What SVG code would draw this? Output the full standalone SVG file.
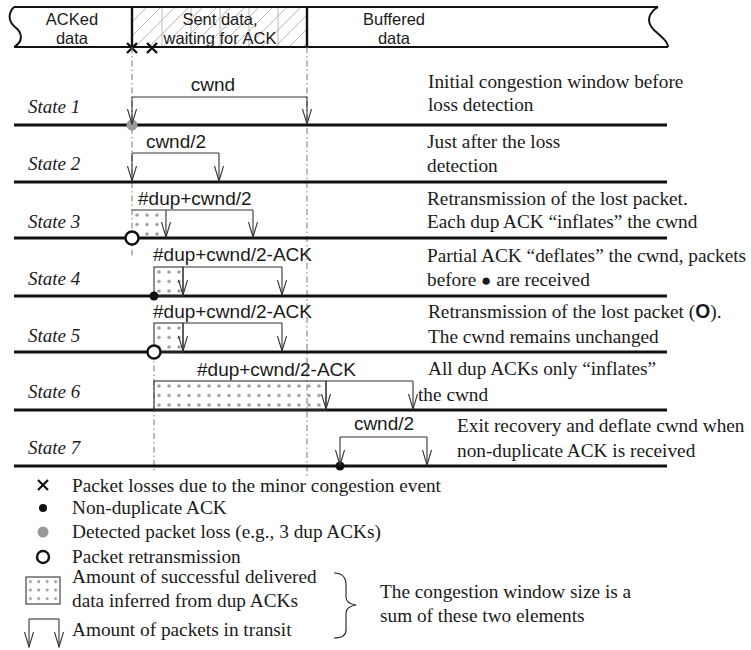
<svg xmlns="http://www.w3.org/2000/svg" width="751" height="650" viewBox="0 0 751 650">
<style>
.sans{font-family:"Liberation Sans",Arial,sans-serif;font-size:19px;fill:#1a1a1a}
.bn{font-family:"Liberation Sans",Arial,sans-serif;font-size:16.5px;fill:#1a1a1a}
.serif{font-family:"Liberation Serif","Times New Roman",serif;font-size:19.3px;fill:#1a1a1a}
.state{font-family:"Liberation Serif","Times New Roman",serif;font-size:19px;font-style:italic;fill:#1a1a1a}
.axis{stroke:#111;stroke-width:2.8;fill:none}
.br{stroke:#333;stroke-width:1.1;fill:none}
.arr{stroke:#333;stroke-width:1.1;fill:none;marker-end:url(#v)}
.dd{stroke:#777;stroke-width:1;stroke-dasharray:6 3 1.5 3;fill:none}
.box{stroke:#333;stroke-width:1.1;fill:url(#dots)}
.hatch{stroke:#aaa;stroke-width:0.8}
</style>
<defs>
<marker id="v" markerUnits="userSpaceOnUse" viewBox="0 -6 16 12" refX="15" refY="0" markerWidth="16" markerHeight="12" orient="auto">
<path d="M0,-4.5 L15,0 L0,4.5" fill="none" stroke="#333" stroke-width="1.1"/>
</marker>
<pattern id="dots" patternUnits="userSpaceOnUse" width="10" height="9.5">
<circle cx="5" cy="5" r="1.7" fill="#9a9a9a"/>
</pattern>
<pattern id="dotsL" patternUnits="userSpaceOnUse" width="8.4" height="8.5">
<circle cx="4.4" cy="4.6" r="1.5" fill="#9a9a9a"/>
</pattern>
<pattern id="hatchP" patternUnits="userSpaceOnUse" width="14" height="14">
<path d="M-1,15 L15,-1" stroke="#aaa" stroke-width="0.8"/>
</pattern>
</defs>

<g id="banner">
<rect x="132" y="7" width="175" height="40" fill="url(#hatchP)"/>
<g class="hatch">
<line x1="162" y1="7" x2="162" y2="47"/>
<line x1="191" y1="7" x2="191" y2="47"/>
<line x1="220" y1="7" x2="220" y2="47"/>
<line x1="249" y1="7" x2="249" y2="47"/>
<line x1="278" y1="7" x2="278" y2="47"/>
</g>
<path d="M14,7 L658,7 M14,47 L668,47" stroke="#111" stroke-width="2.2" fill="none"/>
<path d="M14,7 C8,13 8,21 15,27 C23,33 23,42 14,47" stroke="#111" stroke-width="2" fill="none"/>
<path d="M658,7 C648,13 646,22 654,30 C662,37 668,42 668,47" stroke="#111" stroke-width="2" fill="none"/>
<path d="M132,7 L132,47 M307,7 L307,47" stroke="#111" stroke-width="2.4"/>
<text class="bn" x="72" y="25" text-anchor="middle">ACKed</text>
<text class="bn" x="72" y="44" text-anchor="middle">data</text>
<text class="bn" x="220" y="25" text-anchor="middle">Sent data,</text>
<text class="bn" x="220" y="44" text-anchor="middle">waiting for ACK</text>
<text class="bn" x="394" y="25" text-anchor="middle">Buffered</text>
<text class="bn" x="394" y="44" text-anchor="middle">data</text>
<path d="M127,43 L137,53 M127,53 L137,43 M147,43 L157,53 M147,53 L157,43" stroke="#111" stroke-width="2.4"/>
</g>

<g id="guides">
<line class="dd" x1="132" y1="47" x2="132" y2="258"/>
<line class="dd" x1="307" y1="47" x2="307" y2="476"/>
<line class="dd" x1="154" y1="352" x2="154" y2="472"/>
</g>

<g id="state1">
<line class="axis" x1="14" y1="125" x2="667" y2="125"/>
<text class="state" x="28" y="113">State 1</text>
<text class="sans" x="213" y="91" text-anchor="middle">cwnd</text>
<text class="serif" x="428" y="88">Initial congestion window before</text>
<text class="serif" x="428" y="111">loss detection</text>
<circle cx="132" cy="125" r="5.5" fill="#999"/>
</g>

<g id="state2">
<line class="axis" x1="14" y1="182" x2="667" y2="182"/>
<text class="state" x="28" y="170">State 2</text>
<text class="sans" x="176" y="148" text-anchor="middle">cwnd/2</text>
<text class="serif" x="427" y="148">Just after the loss</text>
<text class="serif" x="427" y="172">detection</text>
</g>

<g id="state3">
<line class="axis" x1="14" y1="238" x2="667" y2="238"/>
<text class="state" x="28" y="228">State 3</text>
<g transform="translate(132,210)"><rect x="0" y="0" width="34" height="28" fill="url(#dots)"/></g>
<text class="sans" x="138" y="205">#dup+cwnd/2</text>
<text class="serif" x="427" y="205">Retransmission of the lost packet.</text>
<text class="serif" x="427" y="228">Each dup ACK “inflates” the cwnd</text>
<circle cx="132" cy="238" r="6.5" fill="#fff" stroke="#111" stroke-width="2.4"/>
</g>

<g id="state4">
<line class="axis" x1="14" y1="296" x2="667" y2="296"/>
<text class="state" x="28" y="285">State 4</text>
<g transform="translate(154,267)"><rect class="box" x="0" y="0" width="29" height="29"/></g>
<text class="sans" x="153" y="261">#dup+cwnd/2-ACK</text>
<text class="serif" x="427" y="262">Partial ACK “deflates” the cwnd, packets</text>
<text class="serif" x="427" y="286">before <tspan font-size="17">●</tspan> are received</text>
<circle cx="154" cy="296" r="4.5" fill="#111"/>
</g>

<g id="state5">
<line class="axis" x1="14" y1="352" x2="667" y2="352"/>
<text class="state" x="28" y="342">State 5</text>
<g transform="translate(154,323)"><rect class="box" x="0" y="0" width="29" height="29"/></g>
<text class="sans" x="153" y="318">#dup+cwnd/2-ACK</text>
<text class="serif" x="428" y="318">Retransmission of the lost packet (<tspan font-family="Liberation Sans,Arial,sans-serif" font-weight="bold">O</tspan>).</text>
<text class="serif" x="428" y="343">The cwnd remains unchanged</text>
<circle cx="154" cy="352" r="6.5" fill="#fff" stroke="#111" stroke-width="2.4"/>
</g>

<g id="state6">
<line class="axis" x1="14" y1="410" x2="667" y2="410"/>
<text class="state" x="28" y="398">State 6</text>
<g transform="translate(154,381)"><rect class="box" x="0" y="0" width="172" height="29"/></g>
<text class="sans" x="197" y="376">#dup+cwnd/2-ACK</text>
<text class="serif" x="428" y="375">All dup ACKs only “inflates”</text>
<text class="serif" x="418" y="401">the cwnd</text>
</g>

<g id="state7">
<line class="axis" x1="14" y1="466" x2="667" y2="466"/>
<text class="state" x="28" y="454">State 7</text>
<text class="sans" x="384" y="430" text-anchor="middle">cwnd/2</text>
<text class="serif" x="457" y="432">Exit recovery and deflate cwnd when</text>
<text class="serif" x="457" y="457">non-duplicate ACK is received</text>
<circle cx="340" cy="466" r="4.5" fill="#111"/>
</g>

<g id="connectors">
<path class="br" d="M132,97 L307,97"/>
<line class="arr" x1="132" y1="97" x2="132" y2="124"/>
<line class="arr" x1="307" y1="97" x2="307" y2="124"/>
<path class="br" d="M132,153 L219,153"/>
<line class="arr" x1="132" y1="153" x2="132" y2="181"/>
<line class="arr" x1="219" y1="153" x2="219" y2="181"/>
<path class="br" d="M132,210 L253,210"/>
<line class="arr" x1="166" y1="210" x2="166" y2="237"/>
<line class="arr" x1="253" y1="210" x2="253" y2="237"/>
<path class="br" d="M183,267 L282,267"/>
<line class="arr" x1="183" y1="267" x2="183" y2="295"/>
<line class="arr" x1="282" y1="267" x2="282" y2="295"/>
<path class="br" d="M183,323 L282,323"/>
<line class="arr" x1="183" y1="323" x2="183" y2="351"/>
<line class="arr" x1="282" y1="323" x2="282" y2="351"/>
<path class="br" d="M326,381 L413,381"/>
<line class="arr" x1="326" y1="381" x2="326" y2="409"/>
<line class="arr" x1="413" y1="381" x2="413" y2="409"/>
<path class="br" d="M340,437 L427,437"/>
<line class="arr" x1="340" y1="437" x2="340" y2="465"/>
<line class="arr" x1="427" y1="437" x2="427" y2="465"/>
</g>

<g id="legend">
<path d="M38,480 L48,490 M38,490 L48,480" stroke="#111" stroke-width="2.2"/>
<text class="serif" x="72" y="492">Packet losses due to the minor congestion event</text>
<circle cx="43" cy="508" r="4" fill="#111"/>
<text class="serif" x="72" y="514">Non-duplicate ACK</text>
<circle cx="43" cy="532" r="5.5" fill="#999"/>
<text class="serif" x="72" y="538">Detected packet loss (e.g., 3 dup ACKs)</text>
<circle cx="43" cy="557" r="6" fill="#fff" stroke="#111" stroke-width="2.4"/>
<text class="serif" x="72" y="563">Packet retransmission</text>
<g transform="translate(26,577)"><rect x="0" y="0" width="34" height="27" fill="url(#dotsL)" stroke="#333" stroke-width="1.1"/></g>
<text class="serif" x="72" y="583">Amount of successful delivered</text>
<text class="serif" x="72" y="607">data inferred from dup ACKs</text>
<path class="br" d="M29,619 L59,619"/>
<line class="arr" x1="29" y1="619" x2="29" y2="647"/>
<line class="arr" x1="59" y1="619" x2="59" y2="647"/>
<text class="serif" x="72" y="636">Amount of packets in transit</text>
<path d="M334,573 C343,573 346,578 346,585 L346,597 C346,602 350,604 356,605 C350,606 346,608 346,613 L346,630 C346,636 342,638 334,638" stroke="#222" stroke-width="1.1" fill="none"/>
<text class="serif" x="380" y="598">The congestion window size is a</text>
<text class="serif" x="380" y="622">sum of these two elements</text>
</g>
</svg>
